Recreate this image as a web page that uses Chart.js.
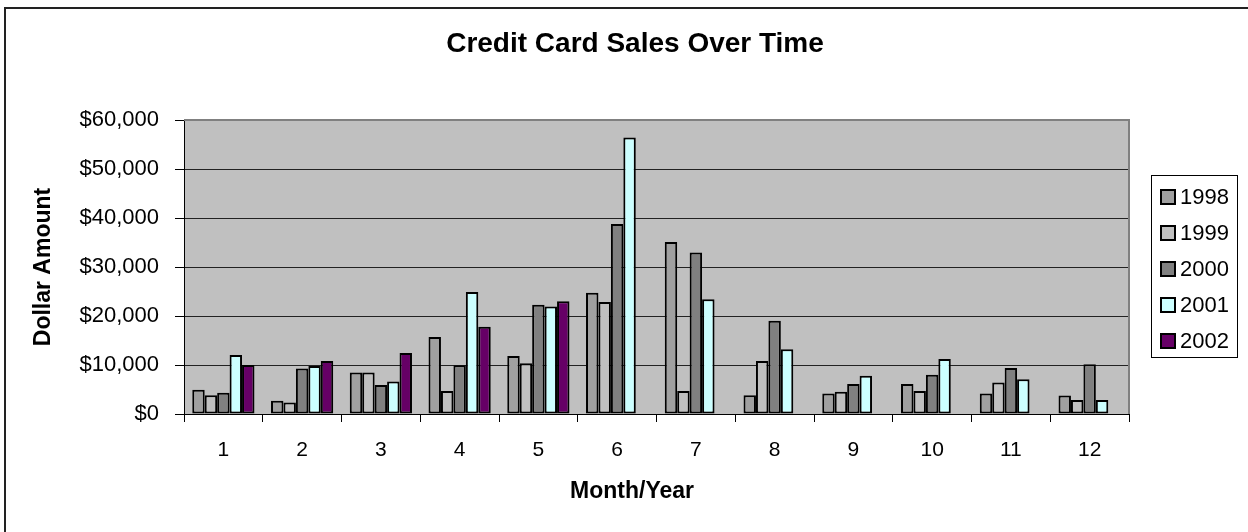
<!DOCTYPE html>
<html>
<head>
<meta charset="utf-8">
<title>Credit Card Sales Over Time</title>
<script src="https://cdn.jsdelivr.net/npm/chart.js@4.4.1/dist/chart.umd.min.js"></script>
<style>
  html, body { margin: 0; padding: 0; background: #fff; }
  canvas { display: block; }
</style>
</head>
<body>
<canvas id="sales-chart" width="1248" height="532"></canvas>
<script>
// values
const months = ['1', '2', '3', '4', '5', '6', '7', '8', '9', '10', '11', '12'];
const years = ['1998', '1999', '2000', '2001', '2002'];
const sales1998 = [4950, 2700, 8450, 15700, 11850, 24750, 35100, 3850, 4200, 6100, 4200, 3800];
const sales1999 = [3850, 2350, 8450, 4700, 10350, 22850, 4700, 10800, 4550, 4700, 6450, 2850];
const sales2000 = [4350, 9300, 5900, 9950, 22300, 38800, 32950, 19050, 6100, 8000, 9400, 10150];
const sales2001 = [12050, 9800, 6650, 24900, 21950, 56450, 23400, 13200, 7800, 11250, 7100, 2850];
const sales2002 = [10000, 10800, 12450, 17800, 23000, null, null, null, null, null, null, null];
const yearColors = ['#a0a0a0', '#c0c0c0', '#808080', '#ccffff', '#660066'];

const FONT = "'Liberation Sans', Arial, sans-serif";
const TITLE = 'Credit Card Sales Over Time';
const X_TITLE = 'Month/Year';

const frame = {
  id: 'frame',
  beforeDraw(chart) {
    const { ctx, chartArea: a } = chart;
    ctx.save();
    ctx.fillStyle = '#fff';
    ctx.fillRect(0, 0, chart.width, chart.height);
    ctx.fillStyle = '#c0c0c0';
    ctx.fillRect(a.left, a.top, a.width, a.height);
    ctx.restore();
  },
  afterDraw(chart) {
    const { ctx, chartArea: a } = chart;
    ctx.save();
    // plot area edge, top and right
    ctx.strokeStyle = '#808080';
    ctx.lineWidth = 2;
    ctx.beginPath();
    ctx.moveTo(a.left, a.top);
    ctx.lineTo(a.right, a.top);
    ctx.lineTo(a.right, a.bottom);
    ctx.stroke();
    // outer chart border
    ctx.strokeStyle = '#222';
    ctx.lineWidth = 2;
    ctx.strokeRect(5, 8, 1400, 700);

    // titles (Excel centres these on the whole chart, not the plot)
    ctx.fillStyle = '#000';
    ctx.textAlign = 'center';
    ctx.textBaseline = 'middle';
    ctx.font = 'bold 28px ' + FONT;
    ctx.fillText(TITLE, 635, 44);
    ctx.font = 'bold 23px ' + FONT;
    ctx.fillText(X_TITLE, 632, 492);

    // legend
    ctx.textAlign = 'left';
    ctx.strokeStyle = '#000';
    ctx.lineWidth = 1;
    ctx.strokeRect(1151.5, 175.5, 86, 182);
    ctx.font = '22px ' + FONT;
    chart.data.datasets.forEach((ds, i) => {
      const y = 197 + i * 36;
      ctx.fillStyle = ds.backgroundColor;
      ctx.fillRect(1161, y - 7, 14, 14);
      ctx.lineWidth = 2;
      ctx.strokeRect(1161, y - 7, 14, 14);
      ctx.fillStyle = '#000';
      ctx.fillText(ds.label, 1180, y + 1);
    });
    ctx.restore();
  }
};

const seriesData = [sales1998, sales1999, sales2000, sales2001, sales2002];

new Chart(document.getElementById('sales-chart'), {
  type: 'bar',
  data: {
    labels: months,
    datasets: years.map((y, i) => ({
      label: y,
      data: seriesData[i],
      backgroundColor: yearColors[i],
      borderColor: '#000',
      borderWidth: 2,
      borderSkipped: false,
      categoryPercentage: 0.79,
      barPercentage: 1.0,
    })),
  },
  options: {
    responsive: false,
    animation: false,
    layout: { padding: { top: 120, right: 119, bottom: 0, left: 0 } },
    plugins: {
      legend: { display: false },
      tooltip: { enabled: false },
      title: { display: false },
    },
    scales: {
      x: {
        grid: { drawOnChartArea: false, drawTicks: true, tickLength: 8, tickColor: '#000' },
        border: { color: '#000', width: 1 },
        ticks: { color: '#000', padding: 16, font: { family: FONT, size: 21 } },
        afterFit(scale) { scale.height = 118; },
      },
      y: {
        min: 0,
        max: 60000,
        grid: { color: '#222', lineWidth: 1, tickLength: 9, tickColor: '#000' },
        border: { color: '#000', width: 1 },
        ticks: {
          stepSize: 10000,
          color: '#000',
          padding: 16,
          font: { family: FONT, size: 22 },
          callback: v => '$' + v.toLocaleString('en-US'),
        },
        title: {
          display: true,
          text: 'Dollar Amount',
          color: '#000',
          font: { family: FONT, size: 23, weight: 'bold' },
          padding: { top: 30, bottom: 0 },
        },
        afterFit(scale) { scale.width = 184; },
      },
    },
  },
  plugins: [frame],
});
</script>
</body>
</html>
